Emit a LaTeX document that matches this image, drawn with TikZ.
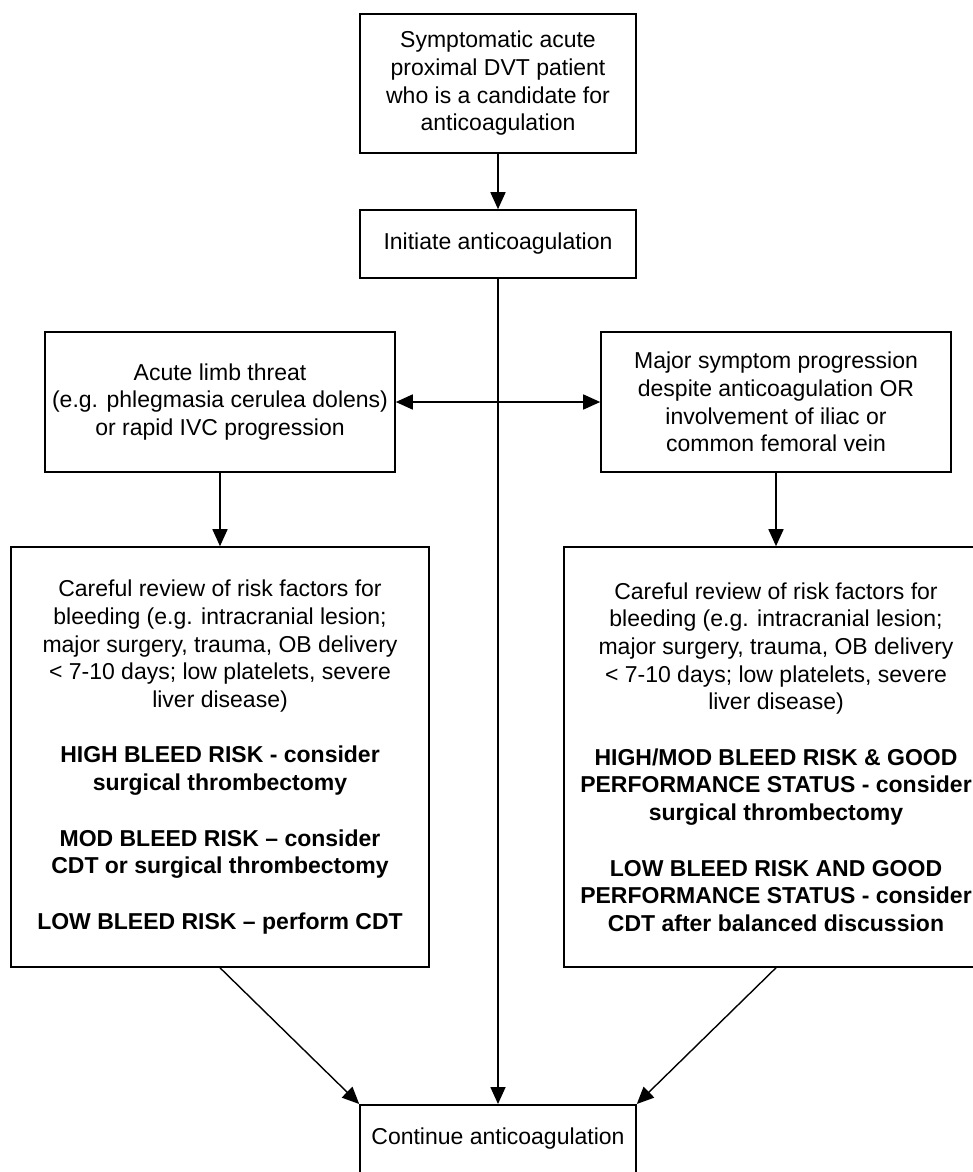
\documentclass[tikz,border=0pt]{standalone}
\usepackage{fontspec}
\setmainfont{Liberation Sans}
\usetikzlibrary{arrows.meta}
\begin{document}
\begin{tikzpicture}[x=1pt,y=-1pt,
  box/.style={draw, line width=1.6pt, inner sep=0pt, align=center,
              font=\fontsize{23}{27.7}\selectfont},
  arr/.style={line width=1.6pt, -{Triangle[length=17pt,width=15pt]}},
  darr/.style={line width=1.6pt, {Triangle[length=17pt,width=15pt]}-{Triangle[length=17pt,width=15pt]}},
  diag/.style={line width=1.4pt, -{Triangle[length=17pt,width=15pt]}}]
\useasboundingbox (0,0) rectangle (973,1172);
\clip (0,0) rectangle (973,1172);
\fill[white] (0,0) rectangle (973,1172);

\node[box, minimum width=276pt, minimum height=139pt] (top) at (498,83.5)
  {Symptomatic acute\\proximal DVT patient\\who is a candidate for\\anticoagulation};
\node[box, minimum width=276pt, minimum height=68pt] (init) at (498,244)
  {Initiate anticoagulation};
\node[box, minimum width=350pt, minimum height=140pt] (acute) at (220,402)
  {Acute limb threat\\(e.g. phlegmasia cerulea dolens)\\or rapid IVC progression};
\node[box, minimum width=350pt, minimum height=140pt] (major) at (776,402)
  {Major symptom progression\\despite anticoagulation OR\\involvement of iliac or\\common femoral vein};
\node[box, minimum width=418pt, minimum height=420pt] (lc) at (220,757)
  {Careful review of risk factors for\\bleeding (e.g. intracranial lesion;\\major surgery, trauma, OB delivery\\< 7-10 days; low platelets, severe\\liver disease)\\[27.7pt]
   \textbf{HIGH BLEED RISK - consider}\\\textbf{surgical thrombectomy}\\[27.7pt]
   \textbf{MOD BLEED RISK – consider}\\\textbf{CDT or surgical thrombectomy}\\[27.7pt]
   \textbf{LOW BLEED RISK – perform CDT}};
\node[box, minimum width=424pt, minimum height=420pt] (rc) at (776,757)
  {Careful review of risk factors for\\bleeding (e.g. intracranial lesion;\\major surgery, trauma, OB delivery\\< 7-10 days; low platelets, severe\\liver disease)\\[27.7pt]
   \textbf{HIGH/MOD BLEED RISK \& GOOD}\\\textbf{PERFORMANCE STATUS - consider}\\\textbf{surgical thrombectomy}\\[27.7pt]
   \textbf{LOW BLEED RISK AND GOOD}\\\textbf{PERFORMANCE STATUS - consider}\\\textbf{CDT after balanced discussion}};
\node[box, minimum width=276pt, minimum height=82pt, anchor=north] (cont) at (498,1104) {};
\node[font=\fontsize{23}{27.7}\selectfont, inner sep=0pt] (conttxt) at (498,1139) {Continue anticoagulation};

\draw[arr] (top) -- (init);
\draw[arr] (init) -- (cont);
\draw[darr] (acute) -- (major);
\draw[arr] (acute) -- (lc);
\draw[arr] (major) -- (rc);
\draw[diag] (lc.south) -- (cont.north west);
\draw[diag] (rc.south) -- (cont.north east);
\end{tikzpicture}
\end{document}
